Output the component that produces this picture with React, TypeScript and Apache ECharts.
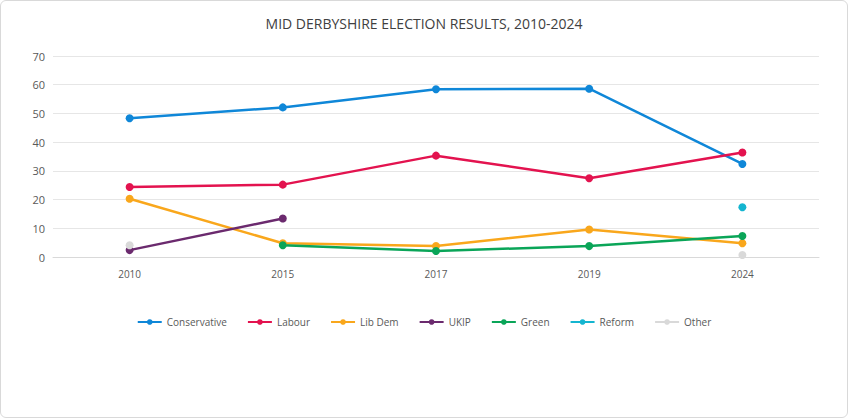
import { useEffect, useRef } from "react";
import * as echarts from "echarts";

const years = ["2010", "2015", "2017", "2019", "2024"];
const conservative = [48.3, 52.1, 58.4, 58.6, 32.4];
const labour = [24.4, 25.2, 35.3, 27.4, 36.4];
const libDem = [20.3, 4.8, 3.8, 9.6, 4.8];
const ukip = [2.4, 13.4, null, null, null];
const green = [null, 4.1, 2.1, 3.8, 7.3];
const reform = [null, null, null, null, 17.3];
const other = [4.1, null, null, null, 0.7];

const seriesDefs: [string, (number | null)[], string][] = [
  ["Conservative", conservative, "#0f87d8"],
  ["Labour", labour, "#e3134f"],
  ["Lib Dem", libDem, "#f9a71c"],
  ["UKIP", ukip, "#6b2a6e"],
  ["Green", green, "#0aa558"],
  ["Reform", reform, "#14b5d0"],
  ["Other", other, "#d9d9d9"],
];

export default function App() {
  const ref = useRef<HTMLDivElement>(null);

  useEffect(() => {
    document.body.style.margin = "0";
    if (!ref.current) return;
    const chart = echarts.init(ref.current, undefined, { renderer: "svg" });
    chart.setOption({
      animation: false,
      textStyle: { fontFamily: "Open Sans" },
      title: {
        text: "MID DERBYSHIRE ELECTION RESULTS, 2010-2024",
        left: "center",
        top: 10,
        textStyle: { fontSize: 14, fontWeight: "normal", color: "#404040" },
      },
      grid: { left: 52, right: 28, top: 55, bottom: 160 },
      legend: {
        top: 311,
        itemGap: 20,
        itemWidth: 24,
        itemHeight: 7,
        textStyle: { fontSize: 10, color: "#595959" },
        data: seriesDefs.map((s) => s[0]),
      },
      xAxis: {
        type: "category",
        data: years,
        axisLine: { lineStyle: { color: "#d9d9d9" } },
        axisTick: { show: false },
        axisLabel: { color: "#595959", fontSize: 10, margin: 12 },
      },
      yAxis: {
        type: "value",
        min: 0,
        max: 70,
        interval: 10,
        axisLabel: { color: "#595959", fontSize: 11 },
        splitLine: { lineStyle: { color: "#e6e6e6" } },
      },
      series: seriesDefs.map(([name, data, color]) => ({
        name,
        type: "line",
        data,
        color,
        symbol: "circle",
        symbolSize: 8,
        lineStyle: { width: 2.5, color },
        itemStyle: { color },
      })),
    });
    return () => chart.dispose();
  }, []);

  return (
    <div
      ref={ref}
      style={{
        width: 848,
        height: 418,
        boxSizing: "border-box",
        border: "1px solid #d9d9d9",
        borderRadius: 6,
        background: "#fff",
      }}
    />
  );
}
